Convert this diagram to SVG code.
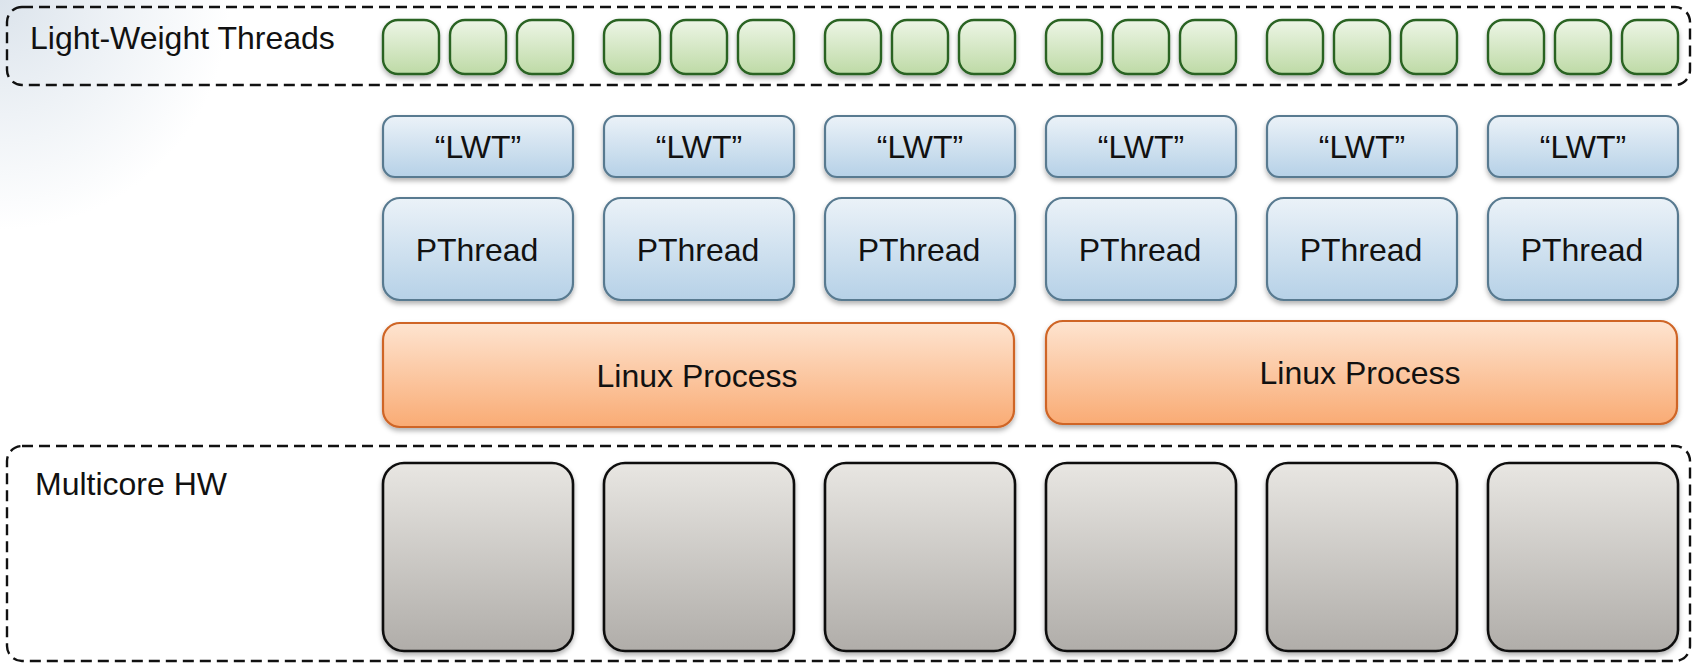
<svg xmlns="http://www.w3.org/2000/svg" width="1694" height="663" viewBox="0 0 1694 663">
  <defs>
    <radialGradient id="bgTint" cx="0" cy="0" r="230" gradientUnits="userSpaceOnUse">
      <stop offset="0" stop-color="#dce4ec"/>
      <stop offset="0.5" stop-color="#eef2f6"/>
      <stop offset="1" stop-color="#ffffff"/>
    </radialGradient>
    <linearGradient id="gGreen" x1="0" y1="0" x2="0" y2="1">
      <stop offset="0" stop-color="#edf5e6"/>
      <stop offset="1" stop-color="#bedaa6"/>
    </linearGradient>
    <linearGradient id="gBlue" x1="0" y1="0" x2="0" y2="1">
      <stop offset="0" stop-color="#ebf2f8"/>
      <stop offset="1" stop-color="#b6d1e7"/>
    </linearGradient>
    <linearGradient id="gOrange" x1="0" y1="0" x2="0" y2="1">
      <stop offset="0" stop-color="#fee4d0"/>
      <stop offset="1" stop-color="#f9ab74"/>
    </linearGradient>
    <linearGradient id="gGray" x1="0" y1="0" x2="0" y2="1">
      <stop offset="0" stop-color="#e8e6e2"/>
      <stop offset="1" stop-color="#b0ada9"/>
    </linearGradient>
    <filter id="shadow" x="-10%" y="-10%" width="120%" height="130%">
      <feDropShadow dx="0" dy="3" stdDeviation="2.5" flood-color="#000" flood-opacity="0.3"/>
    </filter>
  </defs>
  <style>
    text { font-family: "Liberation Sans", Arial, sans-serif; font-size: 32px; fill: #111; }
    .mid { text-anchor: middle; }
    .group { fill: none; stroke: #111; stroke-width: 2.4; stroke-dasharray: 11 6; }
    .lwt { fill: url(#gGreen); stroke: #2a6424; stroke-width: 2.4; filter: url(#shadow); }
    .ult { fill: url(#gBlue); stroke: #587a90; stroke-width: 2.2; filter: url(#shadow); }
    .pth { fill: url(#gBlue); stroke: #587a90; stroke-width: 2.2; filter: url(#shadow); }
    .proc { fill: url(#gOrange); stroke: #cf6526; stroke-width: 2.2; filter: url(#shadow); }
    .core { fill: url(#gGray); stroke: #111; stroke-width: 2.6; filter: url(#shadow); }
  </style>

  <!-- slide background -->
  <rect x="0" y="0" width="1694" height="663" fill="#ffffff"/>
  <rect x="0" y="0" width="260" height="260" fill="url(#bgTint)"/>

  <!-- layer frames -->
  <g id="layer-lwt">
    <rect class="group" x="7" y="7" width="1683" height="78" rx="15"/>
    <text x="30" y="49">Light-Weight Threads</text>
  </g>
  <g id="layer-hw">
    <rect class="group" x="7" y="446" width="1683" height="215" rx="15"/>
    <text x="35" y="495">Multicore HW</text>
  </g>

  <!-- light-weight threads, three per column -->
  <g id="threads">
    <g id="lwt-1"><rect class="lwt" x="383" y="20" width="56" height="54" rx="15"/><rect class="lwt" x="450" y="20" width="56" height="54" rx="15"/><rect class="lwt" x="517" y="20" width="56" height="54" rx="15"/></g>
    <g id="lwt-2"><rect class="lwt" x="604" y="20" width="56" height="54" rx="15"/><rect class="lwt" x="671" y="20" width="56" height="54" rx="15"/><rect class="lwt" x="738" y="20" width="56" height="54" rx="15"/></g>
    <g id="lwt-3"><rect class="lwt" x="825" y="20" width="56" height="54" rx="15"/><rect class="lwt" x="892" y="20" width="56" height="54" rx="15"/><rect class="lwt" x="959" y="20" width="56" height="54" rx="15"/></g>
    <g id="lwt-4"><rect class="lwt" x="1046" y="20" width="56" height="54" rx="15"/><rect class="lwt" x="1113" y="20" width="56" height="54" rx="15"/><rect class="lwt" x="1180" y="20" width="56" height="54" rx="15"/></g>
    <g id="lwt-5"><rect class="lwt" x="1267" y="20" width="56" height="54" rx="15"/><rect class="lwt" x="1334" y="20" width="56" height="54" rx="15"/><rect class="lwt" x="1401" y="20" width="56" height="54" rx="15"/></g>
    <g id="lwt-6"><rect class="lwt" x="1488" y="20" width="56" height="54" rx="15"/><rect class="lwt" x="1555" y="20" width="56" height="54" rx="15"/><rect class="lwt" x="1622" y="20" width="56" height="54" rx="15"/></g>
  </g>

  <!-- "LWT" runtime boxes -->
  <g id="ult-1"><rect class="ult" x="383" y="116" width="190" height="61" rx="12"/><text class="mid" x="478" y="158">“LWT”</text></g>
  <g id="ult-2"><rect class="ult" x="604" y="116" width="190" height="61" rx="12"/><text class="mid" x="699" y="158">“LWT”</text></g>
  <g id="ult-3"><rect class="ult" x="825" y="116" width="190" height="61" rx="12"/><text class="mid" x="920" y="158">“LWT”</text></g>
  <g id="ult-4"><rect class="ult" x="1046" y="116" width="190" height="61" rx="12"/><text class="mid" x="1141" y="158">“LWT”</text></g>
  <g id="ult-5"><rect class="ult" x="1267" y="116" width="190" height="61" rx="12"/><text class="mid" x="1362" y="158">“LWT”</text></g>
  <g id="ult-6"><rect class="ult" x="1488" y="116" width="190" height="61" rx="12"/><text class="mid" x="1583" y="158">“LWT”</text></g>

  <!-- PThreads -->
  <g id="pthread-1"><rect class="pth" x="383" y="198" width="190" height="102" rx="17"/><text class="mid" x="477" y="261">PThread</text></g>
  <g id="pthread-2"><rect class="pth" x="604" y="198" width="190" height="102" rx="17"/><text class="mid" x="698" y="261">PThread</text></g>
  <g id="pthread-3"><rect class="pth" x="825" y="198" width="190" height="102" rx="17"/><text class="mid" x="919" y="261">PThread</text></g>
  <g id="pthread-4"><rect class="pth" x="1046" y="198" width="190" height="102" rx="17"/><text class="mid" x="1140" y="261">PThread</text></g>
  <g id="pthread-5"><rect class="pth" x="1267" y="198" width="190" height="102" rx="17"/><text class="mid" x="1361" y="261">PThread</text></g>
  <g id="pthread-6"><rect class="pth" x="1488" y="198" width="190" height="102" rx="17"/><text class="mid" x="1582" y="261">PThread</text></g>

  <!-- Linux processes -->
  <g id="process-1"><rect class="proc" x="383" y="323" width="631" height="104" rx="17"/><text class="mid" x="697" y="387">Linux Process</text></g>
  <g id="process-2"><rect class="proc" x="1046" y="321" width="631" height="103" rx="17"/><text class="mid" x="1360" y="384">Linux Process</text></g>

  <!-- cores -->
  <g id="core-1"><rect class="core" x="383" y="463" width="190" height="188" rx="21"/></g>
  <g id="core-2"><rect class="core" x="604" y="463" width="190" height="188" rx="21"/></g>
  <g id="core-3"><rect class="core" x="825" y="463" width="190" height="188" rx="21"/></g>
  <g id="core-4"><rect class="core" x="1046" y="463" width="190" height="188" rx="21"/></g>
  <g id="core-5"><rect class="core" x="1267" y="463" width="190" height="188" rx="21"/></g>
  <g id="core-6"><rect class="core" x="1488" y="463" width="190" height="188" rx="21"/></g>

  <!-- no connectors between layers -->
  <g id="connectors"/>
</svg>
